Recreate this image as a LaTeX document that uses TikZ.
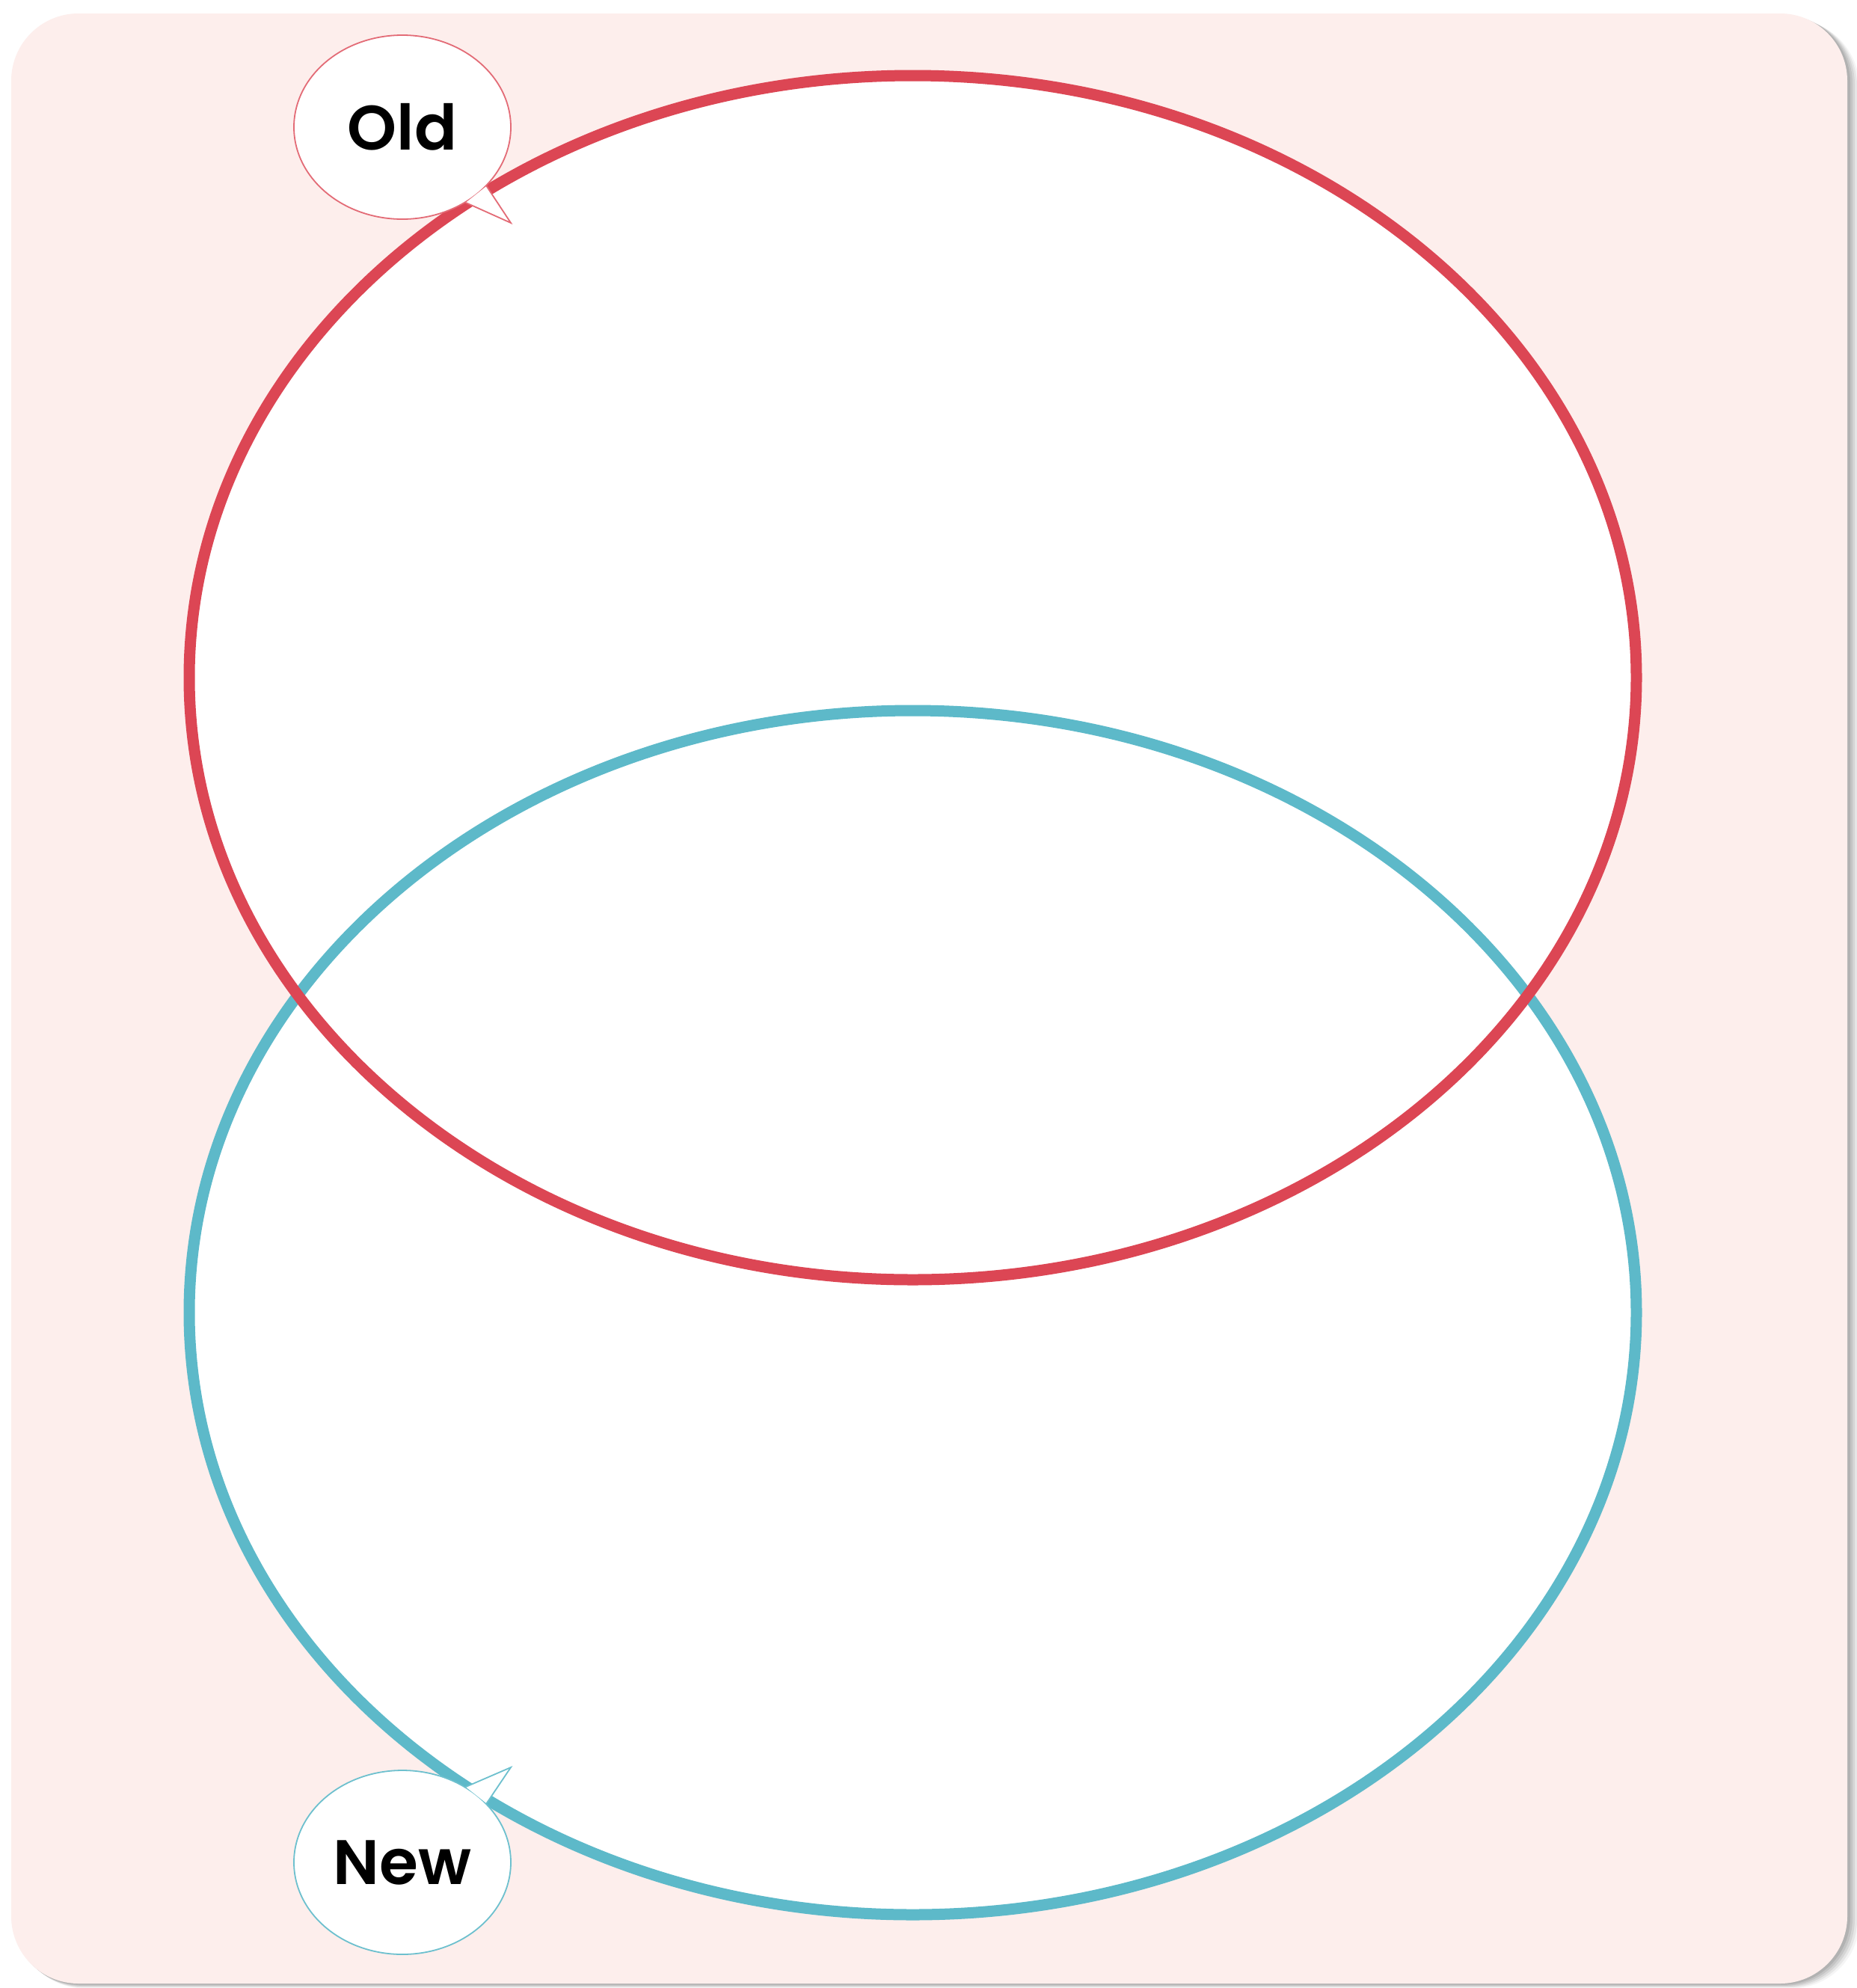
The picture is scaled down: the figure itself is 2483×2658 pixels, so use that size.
\documentclass[tikz,border=0pt]{standalone}
\usepackage{fontspec}
\setmainfont{Poppins}[BoldFont={Poppins SemiBold}]
\usetikzlibrary{shapes.geometric}
\definecolor{oldred}{HTML}{DC4654}
\definecolor{newblue}{HTML}{5DB9C9}
\definecolor{bgpink}{HTML}{FDEEEC}
\begin{document}
\begin{tikzpicture}[x=1pt,y=-1pt,
  setring/.style={ellipse, line width=15pt, minimum width=1935pt, minimum height=1610pt, inner sep=0pt},
  bubble/.style={ellipse, draw, fill=white, line width=1.8pt, minimum width=290pt, minimum height=246pt, inner sep=0pt, font=\fontsize{84}{90}\selectfont\bfseries}]
\useasboundingbox (0,0) rectangle (2483,2658);
\fill[white] (0,0) rectangle (2483,2658);
% shadow
\foreach \o/\op in {16/0.08,13/0.12,10/0.16,7/0.2,4/0.25}
  \fill[black!50,opacity=\op,rounded corners=90pt] (15+\o*0.5,18+\o*0.5) rectangle (2470+\o,2652+\o*0.4);
\fill[bgpink,rounded corners=90pt] (15,18) rectangle (2470,2652);
% set interiors
\fill[white] (1220.5,906) ellipse [x radius=967.5pt, y radius=805pt];
\fill[white] (1220.5,1755) ellipse [x radius=967.5pt, y radius=805pt];
% set outlines
\node[setring, draw=newblue] (newset) at (1220.5,1755) {};
\node[setring, draw=oldred] (oldset) at (1220.5,906) {};
% bubbles
\node[bubble, draw=oldred!80] (oldb) at (538,170) {Old};
\coordinate (oldtip) at (683,298);
\fill[white] (oldb.-35) -- (oldtip) -- (oldb.-50) -- cycle;
\draw[oldred!80, line width=1.8pt] (oldb.-35) -- (oldtip) -- (oldb.-50);
\node[bubble, draw=newblue!90] (newb) at (538,2490) {New};
\coordinate (newtip) at (683,2363);
\fill[white] (newb.35) -- (newtip) -- (newb.50) -- cycle;
\draw[newblue!90, line width=1.8pt] (newb.35) -- (newtip) -- (newb.50);
\end{tikzpicture}
\end{document}
